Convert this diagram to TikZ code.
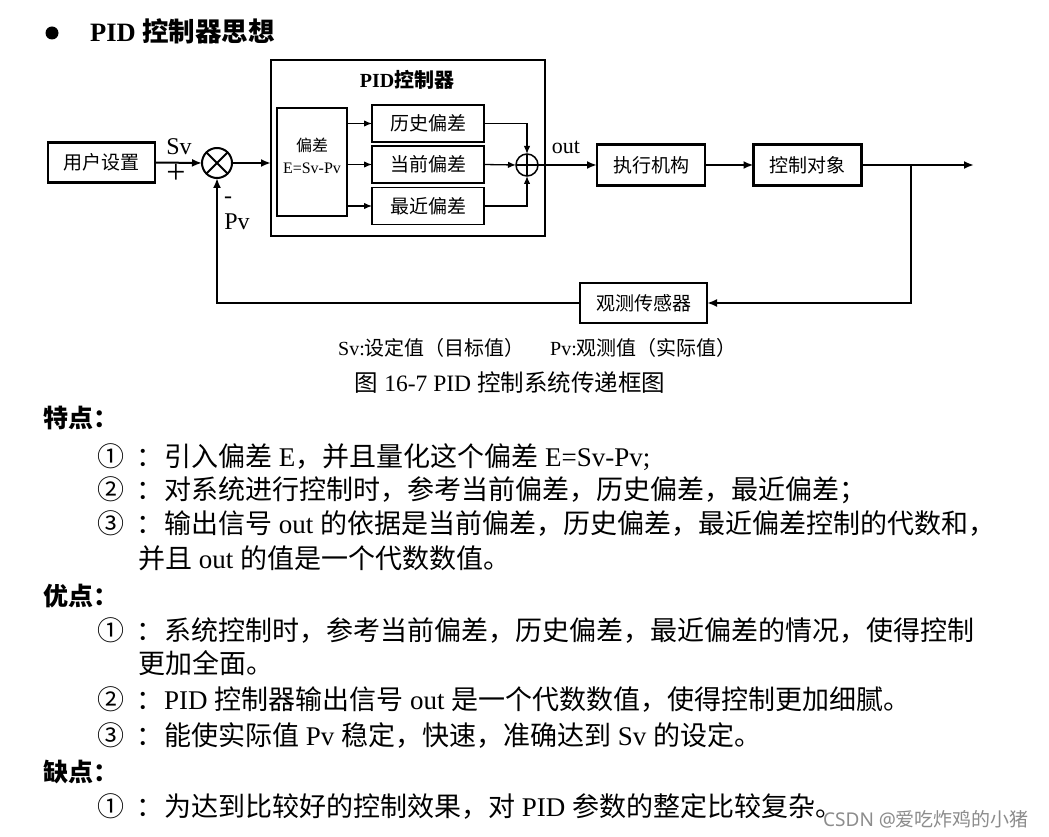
\documentclass[tikz,border=0pt]{standalone}
\usepackage{fontspec}
\setmainfont{Liberation Serif}
\newfontfamily\cjk{Noto Sans CJK SC}
\newfontfamily\wmlat{Noto Sans}
\newcommand\C[1]{{\cjk #1}}
\newcommand\fs[2]{\fontsize{#1}{#2}\selectfont}
\newcommand\itm[1]{\C{#1}\hspace{12pt}\C{：}\hspace{1pt}}
\usetikzlibrary{arrows.meta}
\begin{document}
\begin{tikzpicture}[x=1pt,y=-1pt,
  bigbox/.style={draw, line width=2.4pt, inner sep=0pt, outer sep=0pt, font=\fs{19}{22}\cjk},
  smallbox/.style={draw, line width=1.3pt, inner sep=0pt, outer sep=0pt, font=\fs{19}{22}\cjk},
  arr/.style={line width=2pt, -{Latex[length=10pt,width=8pt]}},
  tarr/.style={line width=1.3pt, -{Latex[length=8pt,width=6.5pt]}},
  lbl/.style={inner sep=0pt, font=\fs{24}{28}},
  body/.style={anchor=base west, inner sep=0pt, font=\fs{27}{30}},
  head/.style={anchor=base west, inner sep=0pt, font=\fs{25}{30}\bfseries},
  captxt/.style={inner sep=0pt, font=\fs{20}{24}}]
\fill[white] (0,0) rectangle (1049,837);
\useasboundingbox (0,0) rectangle (1049,837);

% heading
\node[circle, fill=black, minimum size=13pt, inner sep=0pt] (bul) at (52,33) {};
\node[anchor=base west, inner sep=0pt, font=\fs{26.5}{30}\bfseries] (ttl) at (90,42) {PID \C{控制器思想}};

% PID controller box
\node[bigbox, minimum width=274pt, minimum height=176pt] (pid) at (408,148) {};
\node[inner sep=0pt, font=\fs{20}{22}\bfseries] (pidt) at (407,80) {PID\C{控制器}};
\node[smallbox, minimum width=70pt, minimum height=108pt] (dev) at (312,162) {};
\node[inner sep=0pt, align=center, font=\fs{16}{22}] (devt) at (312,156) {\C{偏差}\\E=Sv-Pv};
\node[smallbox, minimum width=112pt, minimum height=37pt] (hist) at (428,123.5) {历史偏差};
\node[smallbox, minimum width=112pt, minimum height=37pt] (cur) at (428,164.5) {当前偏差};
\node[smallbox, minimum width=112pt, minimum height=37pt] (rec) at (428,206) {最近偏差};
\node[circle, draw, line width=1.5pt, minimum size=22pt, inner sep=0pt, outer sep=0pt] (sum) at (527,165) {};
\draw[line width=1.5pt] (sum.north) -- (sum.south) (sum.west) -- (sum.east);

\draw[tarr] (dev.east |- hist.west) -- (hist.west);
\draw[tarr] (dev.east |- cur.west) -- (cur.west);
\draw[tarr] (dev.east |- rec.west) -- (rec.west);
\draw[tarr] (hist.east) -| (sum.north);
\draw[tarr] (cur.east) -- (sum.west);
\draw[tarr] (rec.east) -| (sum.south);

% main loop
\node[bigbox, minimum width=107pt, minimum height=40pt] (user) at (101.5,162.5) {用户设置};
\node[circle, draw, line width=2pt, minimum size=30pt, inner sep=0pt, outer sep=0pt] (mul) at (217,163) {};
\draw[line width=2pt] (mul.north west) -- (mul.south east) (mul.north east) -- (mul.south west);
\node[bigbox, minimum width=108pt, minimum height=41pt] (exec) at (651,165) {执行机构};
\node[bigbox, minimum width=108pt, minimum height=41pt] (ctrl) at (807.5,165) {控制对象};
\node[bigbox, minimum width=127pt, minimum height=40pt] (sens) at (643.5,303) {观测传感器};
\coordinate (outp) at (974,165);
\coordinate (br) at (911,165);

\draw[arr] (user.east) -- (mul.west);
\draw[arr] (mul.east) -- (pid.west |- mul.east);
\draw[arr] (sum.east) -- (exec.west);
\draw[arr] (exec.east) -- (ctrl.west);
\draw[arr] (ctrl.east) -- (outp);
\draw[arr] (br) |- (sens.east);
\draw[arr] (sens.west) -| (mul.south);

\node[lbl] (sv) at (179,147) {Sv};
\node[inner sep=0pt, font=\fs{34}{36}] (plus) at (176,174) {+};
\node[lbl] (minus) at (228,200) {-};
\node[lbl] (pv) at (237,222) {Pv};
\node[inner sep=0pt, font=\fs{22}{26}] (out) at (566,147) {out};

% captions
\node[captxt, anchor=west] (c1) at (338,348) {Sv:\C{设定值（目标值）}};
\node[captxt, anchor=west] (c2) at (550,348) {Pv:\C{观测值（实际值）}};
\node[inner sep=0pt, font=\fs{23.5}{26}] (c3) at (510,383) {\C{图} 16-7 PID \C{控制系统传递框图}};

% body text
\node[head] (h1) at (43,427) {\C{特点：}};
\node[body] (a1) at (97,466) {\itm{①}\C{引入偏差} E\C{，并且量化这个偏差} E=Sv-Pv;};
\node[body] (a2) at (97,499) {\itm{②}\C{对系统进行控制时，参考当前偏差，历史偏差，最近偏差；}};
\node[body] (a3) at (97,533) {\itm{③}\C{输出信号} out \C{的依据是当前偏差，历史偏差，最近偏差控制的代数和，}};
\node[body] (a4) at (138,568) {\C{并且} out \C{的值是一个代数数值。}};
\node[head] (h2) at (43,605) {\C{优点：}};
\node[body] (b1) at (97,640) {\itm{①}\C{系统控制时，参考当前偏差，历史偏差，最近偏差的情况，使得控制}};
\node[body] (b2) at (138,673) {\C{更加全面。}};
\node[body] (b3) at (97,709) {\itm{②}PID \C{控制器输出信号} out \C{是一个代数数值，使得控制更加细腻。}};
\node[body] (b4) at (97,745) {\itm{③}\C{能使实际值} Pv \C{稳定，快速，准确达到} Sv \C{的设定。}};
\node[head] (h3) at (43,781) {\C{缺点：}};
\node[body] (d1) at (97,816) {\itm{①}\C{为达到比较好的控制效果，对} PID \C{参数的整定比较复杂。}};

% watermark
\node[anchor=west, inner sep=0pt, text=black!45, font=\fs{19}{22}\wmlat] (wm) at (823,819) {CSDN @\C{爱吃炸鸡的小猪}};
\end{tikzpicture}
\end{document}
